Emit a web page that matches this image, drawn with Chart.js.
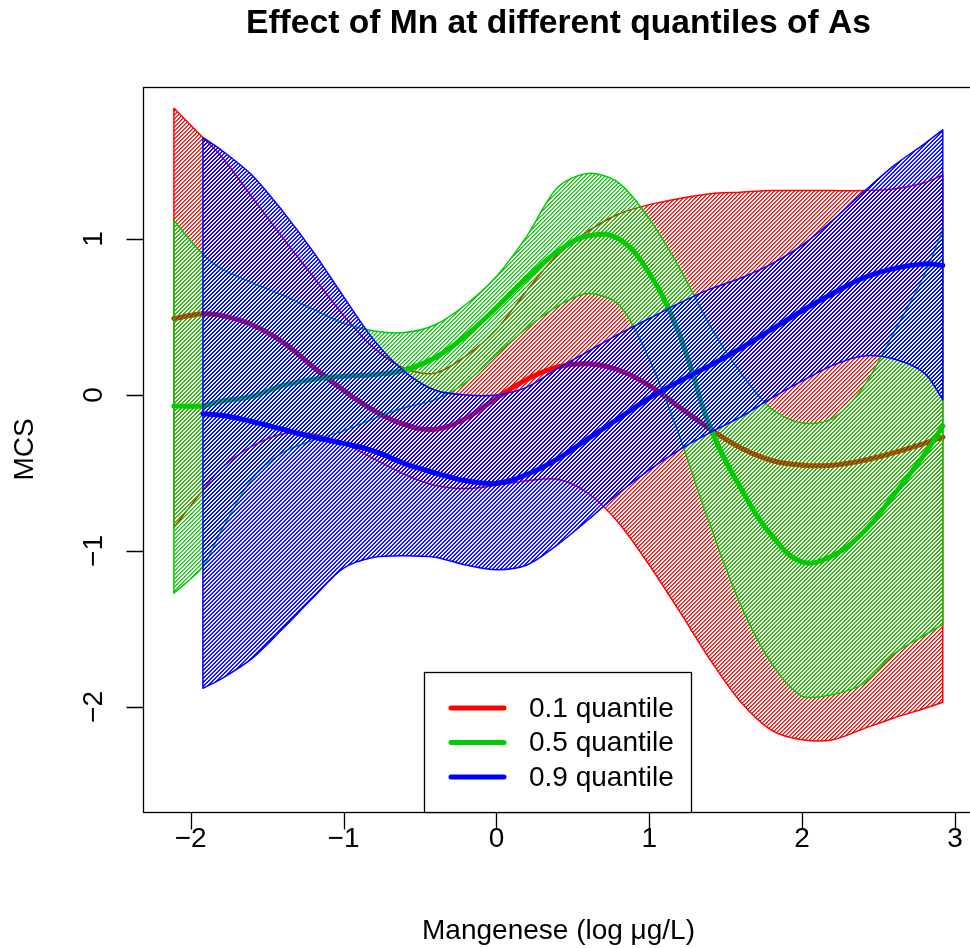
<!DOCTYPE html>
<html>
<head>
<meta charset="utf-8">
<script src="https://cdn.jsdelivr.net/npm/chart.js@4.4.1/dist/chart.umd.min.js"></script>
<style>
  html, body { margin: 0; padding: 0; background: #ffffff; }
  #wrap { width: 970px; height: 948px; }
</style>
</head>
<body>
<div id="wrap"><canvas id="c" width="970" height="948"></canvas></div>
<script>
// Manganese grid (log ug/L) on which the smooth effects were evaluated
const mnGrid = [-2.11, -1.92, -1.8, -1.6, -1.4, -1.2, -1.0, -0.8, -0.6, -0.4, -0.2, 0, 0.2, 0.4,
                0.6, 0.8, 1.0, 1.2, 1.4, 1.6, 1.8, 2.0, 2.2, 2.4, 2.6, 2.8, 2.92];
const mnGridHigh = [-1.92, -1.8, -1.6, -1.4, -1.2, -1.0, -0.8, -0.6, -0.4, -0.2, 0, 0.2, 0.4,
                    0.6, 0.8, 1.0, 1.2, 1.4, 1.6, 1.8, 2.0, 2.2, 2.4, 2.6, 2.8, 2.92];

// 0.1 quantile of As
const q10Fit   = [0.49, 0.52, 0.51, 0.45, 0.34, 0.18, 0.03, -0.10, -0.19, -0.22, -0.15, -0.02, 0.10, 0.18,
                  0.20, 0.16, 0.06, -0.08, -0.22, -0.34, -0.42, -0.45, -0.45, -0.42, -0.37, -0.31, -0.27];
const q10Upper = [1.84, 1.65, 1.53, 1.27, 1.01, 0.76, 0.51, 0.30, 0.17, 0.14, 0.25, 0.42, 0.67, 0.90,
                  1.05, 1.16, 1.22, 1.26, 1.29, 1.30, 1.31, 1.31, 1.31, 1.31, 1.32, 1.36, 1.41];
const q10Lower = [-0.85, -0.61, -0.47, -0.33, -0.25, -0.25, -0.31, -0.41, -0.51, -0.58, -0.60, -0.58, -0.55, -0.54,
                  -0.63, -0.82, -1.09, -1.39, -1.70, -1.97, -2.15, -2.21, -2.21, -2.14, -2.07, -2.01, -1.97];

// 0.5 quantile of As
const q50Fit   = [-0.07, -0.07, -0.04, -0.01, 0.06, 0.10, 0.12, 0.13, 0.16, 0.24, 0.38, 0.56, 0.75, 0.92,
                  1.02, 1.00, 0.78, 0.38, -0.21, -0.60, -0.90, -1.07, -1.03, -0.88, -0.64, -0.38, -0.20];
const q50Upper = [1.12, 0.90, 0.81, 0.72, 0.64, 0.55, 0.46, 0.41, 0.40, 0.45, 0.58, 0.76, 1.02, 1.33,
                  1.42, 1.36, 1.13, 0.81, 0.44, 0.14, -0.09, -0.18, -0.15, 0.05, 0.40, 0.77, 1.06];
const q50Lower = [-1.27, -1.10, -0.87, -0.54, -0.37, -0.29, -0.23, -0.15, -0.08, -0.03, 0.08, 0.26, 0.43, 0.57,
                  0.65, 0.58, 0.23, -0.27, -0.84, -1.35, -1.72, -1.93, -1.92, -1.85, -1.66, -1.54, -1.47];

// 0.9 quantile of As
const q90Fit   = [-0.12, -0.13, -0.17, -0.22, -0.27, -0.31, -0.36, -0.44, -0.50, -0.55, -0.565, -0.51, -0.41,
                  -0.28, -0.15, -0.02, 0.09, 0.19, 0.30, 0.42, 0.54, 0.65, 0.75, 0.81, 0.84, 0.83];
const q90Upper = [1.65, 1.57, 1.41, 1.18, 0.92, 0.63, 0.35, 0.15, 0.03, 0.0, 0.0, 0.05, 0.17,
                  0.28, 0.39, 0.49, 0.59, 0.68, 0.75, 0.84, 0.96, 1.12, 1.30, 1.47, 1.61, 1.70];
const q90Lower = [-1.88, -1.82, -1.69, -1.50, -1.30, -1.11, -1.04, -1.03, -1.04, -1.09, -1.12, -1.09, -0.96,
                  -0.80, -0.63, -0.48, -0.35, -0.24, -0.14, -0.02, 0.09, 0.19, 0.25, 0.23, 0.14, -0.03];

const xTicks = [-2, -1, 0, 1, 2, 3];
const yTicks = [-2, -1, 0, 1];
const quantileLabels = ['0.1 quantile', '0.5 quantile', '0.9 quantile'];
const quantileColors = ['#FF0000', '#00CD00', '#0000FF'];

const FONT = '"Liberation Sans", Arial, Helvetica, sans-serif';
const canvas = document.getElementById('c');
const mainCtx = canvas.getContext('2d');

// diagonal "/" hatching rasterised pixel by pixel (crisp stripes, transparent gaps)
function hatch(color, period, width, phase) {
  const tile = period;
  const c = document.createElement('canvas');
  c.width = tile; c.height = tile;
  const g = c.getContext('2d');
  const img = g.createImageData(tile, tile);
  const r = parseInt(color.slice(1, 3), 16);
  const gg = parseInt(color.slice(3, 5), 16);
  const b = parseInt(color.slice(5, 7), 16);
  const overlap = (a0, a1, b0, b1) => Math.max(0, Math.min(a1, b1) - Math.max(a0, b0));
  for (let y = 0; y < tile; y++) {
    for (let x = 0; x < tile; x++) {
      const s = (x + y + period - phase) % period;
      const cov = Math.min(1, overlap(s, s + 1, 0, width) + overlap(s, s + 1, period, period + width));
      const k = (y * tile + x) * 4;
      img.data[k] = r; img.data[k + 1] = gg; img.data[k + 2] = b;
      img.data[k + 3] = Math.round(255 * cov);
    }
  }
  g.putImageData(img, 0, 0);
  return mainCtx.createPattern(c, 'repeat');
}

// closed outline: upper bound left->right, lower bound right->left
function bandPolygon(xs, upper, lower) {
  const pts = [];
  const n = xs.length;
  pts.push({x: xs[0], y: upper[0]});
  for (let i = 0; i < n; i++) pts.push({x: xs[i], y: upper[i]});
  pts.push({x: xs[n - 1], y: upper[n - 1]});
  pts.push({x: xs[n - 1], y: lower[n - 1]});
  for (let i = n - 1; i >= 0; i--) pts.push({x: xs[i], y: lower[i]});
  pts.push({x: xs[0], y: lower[0]});
  pts.push({x: xs[0], y: upper[0]});
  return pts;
}
function curve(xs, ys) { return xs.map((x, i) => ({x: x, y: ys[i]})); }

function bandSet(label, xs, up, lo, color, pattern, order) {
  return {
    label: label, data: bandPolygon(xs, up, lo), order: order,
    borderColor: color, borderWidth: 1.5, backgroundColor: pattern,
    fill: 'shape', tension: 0.3, pointRadius: 0, borderJoinStyle: 'round'
  };
}
function fitSet(label, xs, ys, color, order) {
  return {
    label: label, data: curve(xs, ys), order: order,
    borderColor: color, borderWidth: 5, fill: false, pointRadius: 0,
    tension: 0.4, borderCapStyle: 'round', borderJoinStyle: 'round'
  };
}

const frame = {
  id: 'frame',
  afterDraw(chart) {
    const {ctx, chartArea: a, scales: {x, y}} = chart;
    ctx.save();
    ctx.strokeStyle = '#000';
    ctx.fillStyle = '#000';
    ctx.lineWidth = 1.3;
    // plot box (right side runs past the canvas edge)
    ctx.strokeRect(a.left + 0.5, a.top + 0.5, a.right + 6 - a.left, a.bottom - a.top);
    // tick marks
    ctx.beginPath();
    xTicks.forEach(v => {
      const px = Math.round(x.getPixelForValue(v)) + 0.5;
      ctx.moveTo(px, a.bottom + 0.5); ctx.lineTo(px, a.bottom + 17.5);
    });
    yTicks.forEach(v => {
      const py = Math.round(y.getPixelForValue(v)) + 0.5;
      ctx.moveTo(a.left + 0.5, py); ctx.lineTo(a.left - 16.5, py);
    });
    ctx.stroke();

    // tick labels
    ctx.font = '28px ' + FONT;
    ctx.textAlign = 'center';
    ctx.textBaseline = 'alphabetic';
    const fmt = v => (v < 0 ? '\u2212' + Math.abs(v) : String(v));
    xTicks.forEach(v => ctx.fillText(fmt(v), x.getPixelForValue(v), 847));
    yTicks.forEach(v => {
      ctx.save();
      ctx.translate(102, y.getPixelForValue(v));
      ctx.rotate(-Math.PI / 2);
      ctx.fillText(fmt(v), 0, 0);
      ctx.restore();
    });

    // axis titles
    const cx = (a.left + a.right + 4) / 2;
    ctx.fillText('Mangenese (log \u03bcg/L)', cx, 939);
    ctx.save();
    ctx.translate(33, (a.top + a.bottom) / 2);
    ctx.rotate(-Math.PI / 2);
    ctx.fillText('MCS', 0, 0);
    ctx.restore();

    // main title
    ctx.font = 'bold 33.6px ' + FONT;
    ctx.fillText('Effect of Mn at different quantiles of As', cx, 33);

    // legend
    const lx = 424.5, ly = 672.5, lw = 267, lh = 140;
    ctx.fillStyle = '#fff';
    ctx.fillRect(lx, ly, lw, lh);
    ctx.lineWidth = 1.3;
    ctx.strokeStyle = '#000';
    ctx.strokeRect(lx, ly, lw, lh);
    ctx.font = '28px ' + FONT;
    ctx.textAlign = 'left';
    ctx.textBaseline = 'middle';
    quantileLabels.forEach((lab, i) => {
      const ry = 708 + i * 34.5;
      ctx.strokeStyle = quantileColors[i];
      ctx.lineWidth = 5;
      ctx.lineCap = 'round';
      ctx.beginPath(); ctx.moveTo(451, ry); ctx.lineTo(504, ry); ctx.stroke();
      ctx.fillStyle = '#000';
      ctx.fillText(lab, 529, ry + 1);
    });
    ctx.restore();
  }
};

new Chart(canvas, {
  type: 'line',
  data: {
    datasets: [
      bandSet('0.1 band', mnGrid, q10Upper, q10Lower, quantileColors[0], hatch(quantileColors[0], 4, 1.6, 0), 6),
      fitSet(quantileLabels[0], mnGrid, q10Fit, quantileColors[0], 5),
      bandSet('0.5 band', mnGrid, q50Upper, q50Lower, quantileColors[1], hatch(quantileColors[1], 4, 1.6, 0), 4),
      fitSet(quantileLabels[1], mnGrid, q50Fit, quantileColors[1], 3),
      bandSet('0.9 band', mnGridHigh, q90Upper, q90Lower, quantileColors[2], hatch(quantileColors[2], 4, 1.9, 0.2), 2),
      fitSet(quantileLabels[2], mnGridHigh, q90Fit, quantileColors[2], 1)
    ]
  },
  options: {
    responsive: false,
    animation: false,
    events: [],
    layout: { padding: { left: 143, top: 87, right: 0, bottom: 136 } },
    plugins: {
      legend: { display: false },
      title: { display: false },
      tooltip: { enabled: false }
    },
    scales: {
      x: { type: 'linear', min: -2.312, max: 3.098, display: false },
      y: { type: 'linear', min: -2.673, max: 1.974, display: false }
    }
  },
  plugins: [frame]
});
</script>
</body>
</html>
